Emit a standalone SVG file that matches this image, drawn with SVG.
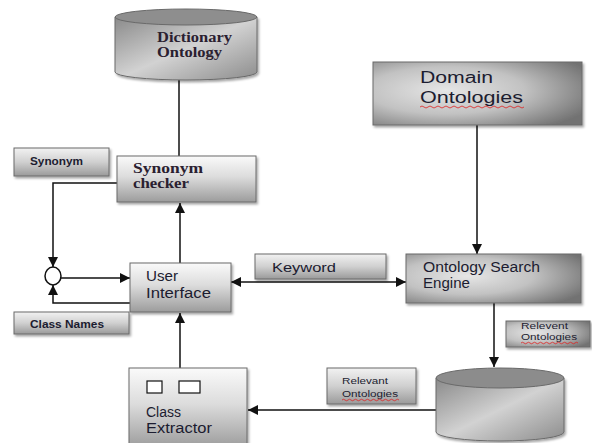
<svg xmlns="http://www.w3.org/2000/svg" width="592" height="443" viewBox="0 0 592 443">
<style>
.box{stroke:#6a6a6a;stroke-width:1;filter:url(#sh)}
.lbl{fill:url(#gLbl)}
.conn{fill:none;stroke:#111;stroke-width:1.5}
.sans{font-family:"Liberation Sans",Arial,sans-serif;fill:#1c1c30}
.serif{font-family:"Liberation Serif","Times New Roman",serif;font-weight:bold;fill:#2a2030}
.sq{fill:none;stroke:#e02020;stroke-width:0.8}
</style>
<defs>
<filter id="sh" x="-10%" y="-10%" width="130%" height="140%">
<feDropShadow dx="1.5" dy="2" stdDeviation="1.2" flood-color="#000" flood-opacity="0.35"/>
</filter>
<linearGradient id="gLbl" x1="0" y1="0" x2="0" y2="1">
<stop offset="0" stop-color="#f2f2f2"/><stop offset="0.5" stop-color="#d0d0d0"/><stop offset="1" stop-color="#9a9a9a"/>
</linearGradient>
<linearGradient id="gV" x1="0" y1="0" x2="0" y2="1">
<stop offset="0" stop-color="#fafafa"/><stop offset="0.45" stop-color="#dcdcdc"/><stop offset="1" stop-color="#9c9c9c"/>
</linearGradient>
<radialGradient id="gR" cx="0.35" cy="0.45" r="0.75">
<stop offset="0" stop-color="#e6e6e6"/><stop offset="0.5" stop-color="#c2c2c2"/><stop offset="1" stop-color="#727272"/>
</radialGradient>
<linearGradient id="gCyl" x1="0" y1="0" x2="1" y2="1">
<stop offset="0" stop-color="#8a8a8a"/><stop offset="0.5" stop-color="#d2d2d2"/><stop offset="1" stop-color="#8c8c8c"/>
</linearGradient>
<marker id="ah" viewBox="0 0 10 10" refX="10" refY="5" markerWidth="10" markerHeight="10" markerUnits="userSpaceOnUse" orient="auto-start-reverse">
<path d="M0,0 L10,5 L0,10 z" fill="#111"/>
</marker>
</defs>

<g id="connectors">
<line class="conn" x1="179" y1="80" x2="179" y2="157"/>
<line class="conn" x1="180" y1="263" x2="180" y2="203" marker-end="url(#ah)"/>
<line class="conn" x1="180" y1="368" x2="180" y2="313" marker-end="url(#ah)"/>
<polyline class="conn" points="117,183 53,183 53,267" marker-end="url(#ah)"/>
<line class="conn" x1="61" y1="278" x2="130" y2="278" marker-end="url(#ah)"/>
<polyline class="conn" points="130,303 53,303 53,285" marker-end="url(#ah)"/>
<line class="conn" x1="231" y1="282" x2="406" y2="282" marker-start="url(#ah)" marker-end="url(#ah)"/>
<line class="conn" x1="477" y1="125" x2="477" y2="254" marker-end="url(#ah)"/>
<line class="conn" x1="494" y1="303" x2="494" y2="367" marker-end="url(#ah)"/>
<line class="conn" x1="436" y1="410" x2="248" y2="410" marker-end="url(#ah)"/>
<ellipse cx="53" cy="276" rx="8" ry="9" fill="#fff" stroke="#111" stroke-width="1.5"/>
</g>

<g id="dictionary-ontology">
<path class="box" d="M115,17 L115,72 A71,8 0 0 0 257,72 L257,17 Z" fill="url(#gCyl)"/>
<ellipse cx="186" cy="17" rx="71" ry="8" fill="#8e8e8e" stroke="#6a6a6a"/>
<text class="serif" x="157" y="42" font-size="14" textLength="75" lengthAdjust="spacingAndGlyphs">Dictionary</text>
<text class="serif" x="157" y="57" font-size="14" textLength="65" lengthAdjust="spacingAndGlyphs">Ontology</text>
</g>

<g id="domain-ontologies">
<rect class="box" x="373" y="62" width="209" height="63" fill="url(#gR)"/>
<text class="sans" x="420" y="83" font-size="16" textLength="73" lengthAdjust="spacingAndGlyphs">Domain</text>
<text class="sans" x="420" y="103" font-size="16" textLength="103" lengthAdjust="spacingAndGlyphs">Ontologies</text>
<path class="sq" d="M420,107 q2,-2 4,0 t4,0 t4,0 t4,0 t4,0 t4,0 t4,0 t4,0 t4,0 t4,0 t4,0 t4,0 t4,0 t4,0 t4,0 t4,0 t4,0 t4,0 t4,0 t4,0 t4,0 t4,0 t4,0 t4,0 t4,0 t4,0"/>
</g>

<g id="synonym-label">
<rect class="box lbl" x="14" y="148" width="95" height="28"/>
<text class="sans" x="30" y="165" font-size="10" font-weight="bold" textLength="53" lengthAdjust="spacingAndGlyphs">Synonym</text>
</g>

<g id="synonym-checker">
<rect class="box" x="117" y="156" width="139" height="46" fill="url(#gV)"/>
<text class="serif" x="133" y="173" font-size="14" textLength="70" lengthAdjust="spacingAndGlyphs">Synonym</text>
<text class="serif" x="133" y="188" font-size="14" textLength="56" lengthAdjust="spacingAndGlyphs">checker</text>
</g>

<g id="user-interface">
<rect class="box" x="130" y="263" width="101" height="49" fill="url(#gV)"/>
<text class="sans" x="146" y="281" font-size="14" textLength="32" lengthAdjust="spacingAndGlyphs">User</text>
<text class="sans" x="146" y="298" font-size="14" textLength="65" lengthAdjust="spacingAndGlyphs">Interface</text>
</g>

<g id="class-names-label">
<rect class="box lbl" x="14" y="312" width="115" height="22"/>
<text class="sans" x="30" y="328" font-size="10" font-weight="bold" textLength="74" lengthAdjust="spacingAndGlyphs">Class Names</text>
</g>

<g id="keyword-label">
<rect class="box lbl" x="255" y="254" width="131" height="25"/>
<text class="sans" x="272" y="272" font-size="13" textLength="64" lengthAdjust="spacingAndGlyphs">Keyword</text>
</g>

<g id="ontology-search-engine">
<rect class="box" x="406" y="254" width="175" height="49" fill="url(#gR)"/>
<text class="sans" x="423" y="272" font-size="14" textLength="117" lengthAdjust="spacingAndGlyphs">Ontology Search</text>
<text class="sans" x="423" y="288" font-size="14" textLength="47" lengthAdjust="spacingAndGlyphs">Engine</text>
</g>

<g id="relevent-ontologies-label">
<rect class="box" x="506" y="321" width="84" height="26" fill="url(#gR)"/>
<text class="sans" x="521" y="329" font-size="8.5" textLength="47" lengthAdjust="spacingAndGlyphs">Relevent</text>
<text class="sans" x="521" y="340" font-size="8.5" textLength="56" lengthAdjust="spacingAndGlyphs">Ontologies</text>
<path class="sq" d="M521,343 q1.5,-1.5 3,0 t3,0 t3,0 t3,0 t3,0 t3,0 t3,0 t3,0 t3,0 t3,0 t3,0 t3,0 t3,0 t3,0 t3,0 t3,0 t3,0 t3,0 t3,0"/>
</g>

<g id="relevant-ontologies-label">
<rect class="box lbl" x="327" y="368" width="89" height="36"/>
<text class="sans" x="342" y="384" font-size="8.5" textLength="46" lengthAdjust="spacingAndGlyphs">Relevant</text>
<text class="sans" x="342" y="397" font-size="8.5" textLength="56" lengthAdjust="spacingAndGlyphs">Ontologies</text>
<path class="sq" d="M342,400 q1.5,-1.5 3,0 t3,0 t3,0 t3,0 t3,0 t3,0 t3,0 t3,0 t3,0 t3,0 t3,0 t3,0 t3,0 t3,0 t3,0 t3,0 t3,0 t3,0 t3,0"/>
</g>

<g id="relevant-ontologies-store">
<path class="box" d="M436,378 L436,432 A64,9 0 0 0 564,432 L564,378 Z" fill="url(#gCyl)"/>
<ellipse cx="500" cy="378" rx="64" ry="10" fill="#8c8c8c" stroke="#6a6a6a"/>
</g>

<g id="class-extractor">
<rect class="box" x="129" y="368" width="118" height="80" fill="url(#gV)"/>
<rect x="147" y="381" width="15" height="12" fill="#fff" stroke="#111" stroke-width="1.2"/>
<rect x="179" y="381" width="21" height="12" fill="#fff" stroke="#111" stroke-width="1.2"/>
<text class="sans" x="146" y="417" font-size="14" textLength="35" lengthAdjust="spacingAndGlyphs">Class</text>
<text class="sans" x="146" y="433" font-size="14" textLength="66" lengthAdjust="spacingAndGlyphs">Extractor</text>
</g>
</svg>
